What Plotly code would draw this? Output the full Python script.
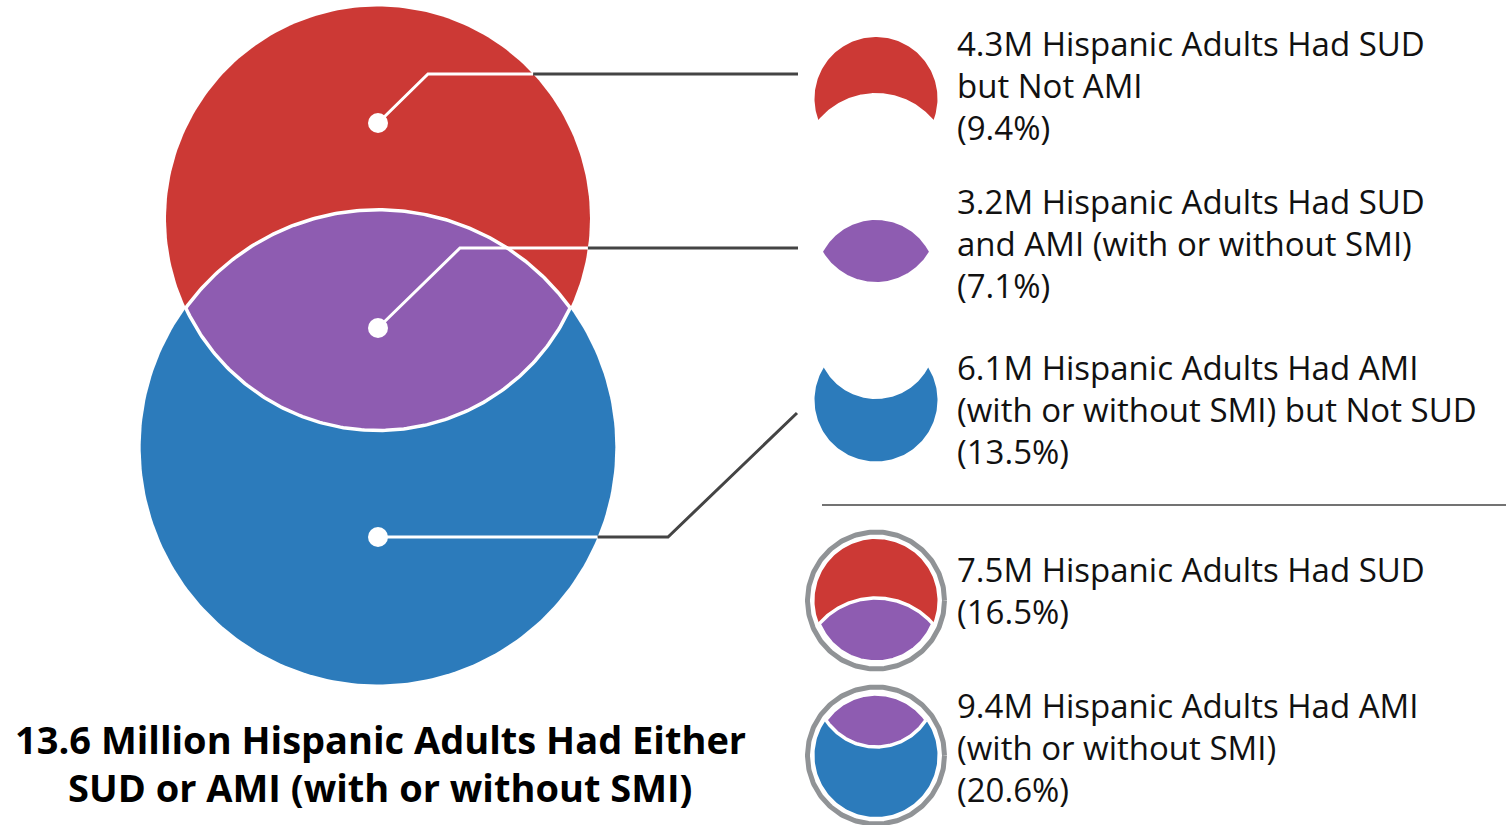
import numpy as np
import plotly.graph_objects as go

# ---------------- data ----------------
total_either_m = 13.6
sud_only_m = 4.3
both_m = 3.2
ami_only_m = 6.1
sud_total_m = 7.5
ami_total_m = 9.4

label_values = [4.3, 3.2, 6.1, 7.5, 9.4]
label_percents = [9.4, 7.1, 13.5, 16.5, 20.6]
label_heads = ["Hispanic Adults Had SUD", "Hispanic Adults Had SUD", "Hispanic Adults Had AMI",
               "Hispanic Adults Had SUD", "Hispanic Adults Had AMI"]
label_middles = ["but Not AMI", "and AMI (with or without SMI)", "(with or without SMI) but Not SUD",
                 None, "(with or without SMI)"]
title_lines = [f"{total_either_m} Million Hispanic Adults Had Either",
               "SUD or AMI (with or without SMI)"]

# ---------------- style ----------------
RED = "#CC3935"
PURPLE = "#8E5CB1"
BLUE = "#2C7BBB"
RING = "#909396"
DARK = "#444444"
TXT = "#111111"
FONT = "Open Sans"

# ---------------- geometry helpers ----------------
def circle_pts(cx, cy, r, n=240):
    t = np.linspace(0, 2 * np.pi, n)
    return cx + r * np.cos(t), cy + r * np.sin(t)

def lens_area(r1, r2, d):
    a1 = np.arccos(np.clip((d * d + r1 * r1 - r2 * r2) / (2 * d * r1), -1, 1))
    a2 = np.arccos(np.clip((d * d + r2 * r2 - r1 * r1) / (2 * d * r2), -1, 1))
    k = (-d + r1 + r2) * (d + r1 - r2) * (d - r1 + r2) * (d + r1 + r2)
    return r1 * r1 * a1 + r2 * r2 * a2 - 0.5 * np.sqrt(max(k, 0))

def regions(cx, yA, rA, yB, rB, n=160):
    """A on top, B below (pixel coords, y downward). Returns polygons."""
    d = yB - yA
    a = (rA * rA - rB * rB + d * d) / (2 * d)
    h = np.sqrt(rA * rA - a * a)
    thR = np.arctan2(a, h)
    thL = np.pi - thR
    psi = np.arctan2(-(a - d), h)
    phR = -psi
    phL = psi - np.pi
    def arcA(t0, t1):
        t = np.linspace(t0, t1, n)
        return cx + rA * np.cos(t), yA + rA * np.sin(t)
    def arcB(t0, t1):
        t = np.linspace(t0, t1, n)
        return cx + rB * np.cos(t), yB + rB * np.sin(t)
    x1, y1 = arcA(thL, thR + 2 * np.pi)
    x2, y2 = arcB(phR, phL)
    a_minus = (np.r_[x1, x2], np.r_[y1, y2])
    x1, y1 = arcA(thR, thL)
    x2, y2 = arcB(phL, phR)
    lens = (np.r_[x1, x2], np.r_[y1, y2])
    x1, y1 = arcB(phR, phL + 2 * np.pi)
    x2, y2 = arcA(thL, thR)
    b_minus = (np.r_[x1, x2], np.r_[y1, y2])
    return a_minus, lens, b_minus

fig = go.Figure()

def poly(xy, fill, line_color=None, width=0):
    x, y = xy
    fig.add_trace(go.Scatter(x=x, y=y, mode="lines", fill="toself", fillcolor=fill,
                             line=dict(color=line_color or fill, width=width),
                             hoverinfo="skip", showlegend=False))

def path(x, y, color, width=3):
    fig.add_trace(go.Scatter(x=x, y=y, mode="lines", line=dict(color=color, width=width),
                             hoverinfo="skip", showlegend=False))

# ---------------- main Venn (areas proportional to values) ----------------
K = 212 / np.sqrt(7.5)          # px per sqrt(million)
r_sud = K * np.sqrt(sud_total_m)
r_ami = K * np.sqrt(ami_total_m)
target = np.pi * K * K * both_m
lo, hi = abs(r_ami - r_sud) + 1e-6, r_sud + r_ami
for _ in range(80):
    mid = (lo + hi) / 2
    if lens_area(r_sud, r_ami, mid) > target:
        lo = mid
    else:
        hi = mid
dist = (lo + hi) / 2
CX = 378
y_sud = 6.5 + r_sud
y_ami = y_sud + dist

poly(circle_pts(CX, y_sud, r_sud), RED)
poly(circle_pts(CX, y_ami, r_ami), BLUE)
_, main_lens, _ = regions(CX, y_sud, r_sud, y_ami, r_ami)
poly(main_lens, PURPLE, "white", 3.5)

# leader lines
def edge_x(cy, r, y):
    return CX + np.sqrt(r * r - (y - cy) ** 2)

y1 = 74
e1 = edge_x(y_sud, r_sud, y1)
path([CX, 428, e1], [123, y1, y1], "white")
path([e1, 798], [y1, y1], DARK)
y2 = 248
e2 = edge_x(y_sud, r_sud, y2)
path([CX, 460, e2], [328, y2, y2], "white")
path([e2, 798], [y2, y2], DARK)
y3 = 537
e3 = edge_x(y_ami, r_ami, y3)
path([CX, e3], [y3, y3], "white")
path([e3, 668, 797], [y3, y3, 413], DARK)
fig.add_trace(go.Scatter(x=[CX, CX, CX], y=[123, 328, 537], mode="markers",
                         marker=dict(color="white", size=20, line=dict(width=0)),
                         hoverinfo="skip", showlegend=False))

# ---------------- icons ----------------
IX = 876
a_m, _, _ = regions(IX, 98.5, 61.5, 168, 75)
poly(a_m, RED)
_, ln, _ = regions(IX, 220.5, 61.5, 280, 60)
poly(ln, PURPLE)
_, _, b_m = regions(IX, 340, 59, 400, 61.5)
poly(b_m, BLUE)
a_m, ln, _ = regions(IX, 600.5, 61.5, 673.5, 75.5)
poly(a_m, RED)
poly(ln, PURPLE, "white", 3.5)
path(*circle_pts(IX, 600.5, 68.5), RING, 5)
_, ln, b_m = regions(IX, 687, 60, 755.5, 61.5)
poly(b_m, BLUE)
poly(ln, PURPLE, "white", 3.5)
path(*circle_pts(IX, 755.5, 68.5), RING, 5)

# separator
path([822, 1506], [505, 505], DARK, 1.5)

# ---------------- text ----------------
ann = []
block_tops = [44, 202, 368, 570, 706]
LS = 42
for i in range(5):
    lines = [f"{label_values[i]}M {label_heads[i]}"]
    if label_middles[i]:
        lines.append(label_middles[i])
    lines.append(f"({label_percents[i]}%)")
    for j, t in enumerate(lines):
        ann.append(dict(x=955, y=block_tops[i] + j * LS - 1, text=t, showarrow=False,
                        xanchor="left", yanchor="middle", xref="x", yref="y",
                        font=dict(family=FONT, size=33, color=TXT)))
for j, t in enumerate(title_lines):
    ann.append(dict(x=380, y=739 + j * 48, text=f"<b>{t}</b>", showarrow=False,
                    xanchor="center", yanchor="middle", xref="x", yref="y",
                    font=dict(family=FONT, size=38, color="#000000")))

fig.update_layout(
    width=1506, height=825,
    margin=dict(l=0, r=0, t=0, b=0),
    paper_bgcolor="white", plot_bgcolor="white",
    xaxis=dict(range=[0, 1506], visible=False, fixedrange=True),
    yaxis=dict(range=[825, 0], visible=False, fixedrange=True),
    annotations=ann,
    showlegend=False,
)
fig.write_html("out.html", config={"displayModeBar": False},
               post_script="document.body.style.margin='0px';")
